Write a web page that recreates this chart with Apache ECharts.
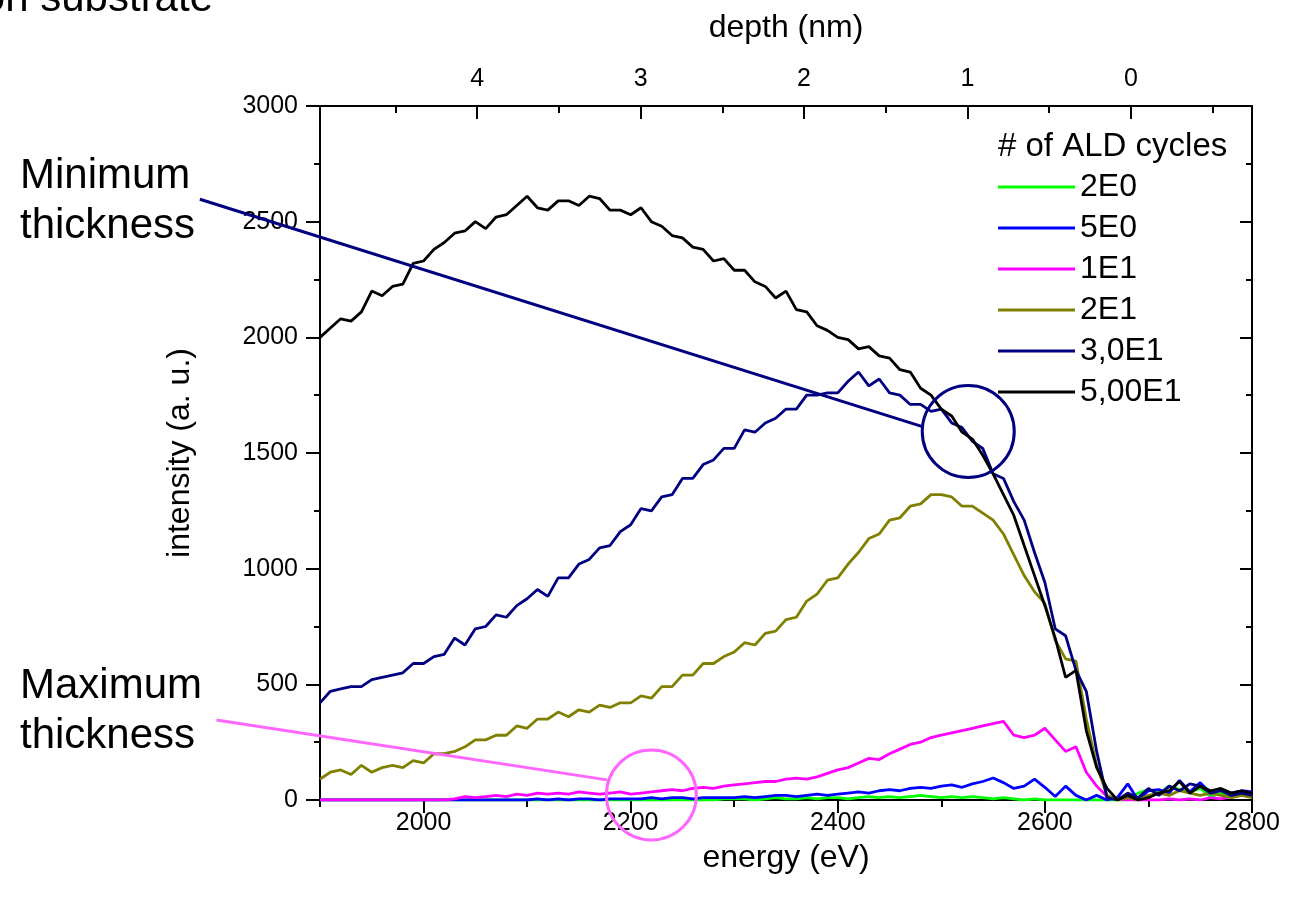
<!DOCTYPE html>
<html><head><meta charset="utf-8">
<script src="https://cdn.jsdelivr.net/npm/echarts@6/dist/echarts.min.js"></script>
<style>html,body{margin:0;padding:0;background:#fff}#chart{width:1301px;height:904px}</style>
</head><body><div id="chart"></div>
<script>
// ---------- data ----------
const energyStart = 1900, energyEnd = 2800, energyStep = 10; // sampling grid (eV)
const cycles = ['2E0', '5E0', '1E1', '2E1', '3,0E1', '5,00E1'];
const colors = ['#00ff00', '#0000ff', '#ff00ff', '#808000', '#000080', '#000000'];

const s2E0 = [
  0,0,0,0,0,0,0,0,0,0,
  0,0,0,0,0,0,0,0,0,0,
  0,0,0,0,0,0,0,0,0,0,
  0,0,0,0,0,0,0,0,0,5,
  5,5,0,5,10,5,5,10,5,10,
  10,5,10,15,10,15,10,15,20,15,
  10,15,10,15,10,5,10,5,0,5,
  0,0,0,0,0,0,0,0,0,30,
  45,30,60,45,35,50,15,30,20,25,
  15];
const s5E0 = [
  0,0,0,0,0,0,0,0,0,0,
  0,0,0,0,0,0,0,0,0,0,
  0,5,0,5,0,5,5,0,5,5,
  5,5,10,5,10,10,5,10,10,10,
  10,15,10,15,20,20,15,20,25,20,
  25,30,35,30,40,45,40,50,55,50,
  60,65,55,70,80,95,75,50,60,90,
  55,15,60,20,0,20,0,10,70,0,
  40,45,30,85,35,75,30,45,30,40,
  35];
const s1E1 = [
  0,0,0,0,0,0,0,0,0,0,
  0,0,0,5,15,10,15,20,15,25,
  20,30,25,30,25,35,30,25,30,35,
  25,30,35,40,45,40,50,55,50,60,
  65,70,75,80,80,90,95,90,100,115,
  130,140,160,180,175,200,220,240,250,270,
  280,290,300,310,320,330,340,280,270,280,
  310,260,210,230,120,60,15,5,0,0,
  0,0,5,0,5,0,10,5,15,20,
  25];
const s2E1 = [
  90,120,130,110,150,120,140,150,140,170,
  160,200,200,210,230,260,260,280,280,320,
  310,350,350,380,360,390,380,410,400,420,
  420,450,440,490,490,540,540,590,590,620,
  640,680,670,720,730,780,790,860,890,950,
  960,1020,1070,1130,1150,1210,1220,1270,1280,1320,
  1320,1310,1270,1270,1240,1210,1150,1060,970,900,
  850,690,610,600,350,150,20,0,10,0,
  20,30,20,40,30,20,30,20,10,20,
  10];
const s3E1 = [
  420,470,480,490,490,520,530,540,550,590,
  590,620,630,700,670,740,750,800,790,840,
  870,910,880,960,960,1020,1040,1090,1100,1160,
  1190,1260,1250,1310,1320,1390,1390,1450,1470,1520,
  1520,1600,1590,1630,1650,1690,1690,1750,1750,1760,
  1760,1810,1850,1790,1820,1760,1750,1710,1710,1680,
  1690,1630,1610,1550,1520,1410,1390,1290,1210,1070,
  940,740,710,560,470,210,10,0,30,10,
  50,20,60,40,70,60,30,40,20,30,
  20];
const s5E1 = [
  2000,2040,2080,2070,2110,2200,2180,2220,2230,2320,
  2330,2380,2410,2450,2460,2500,2470,2520,2530,2570,
  2610,2560,2550,2590,2590,2570,2610,2600,2550,2550,
  2530,2560,2500,2480,2440,2430,2390,2380,2330,2340,
  2290,2290,2240,2220,2170,2200,2120,2110,2050,2030,
  2000,1990,1950,1960,1920,1910,1860,1850,1780,1750,
  1690,1660,1590,1560,1490,1410,1320,1230,1100,970,
  840,700,530,560,300,140,50,0,20,0,
  10,30,40,80,30,60,40,50,30,40,
  30];
const seriesValues = [s2E0, s5E0, s1E1, s2E1, s3E1, s5E1];

const energyTicks = [2000, 2200, 2400, 2600, 2800];
const depthTicks = [4, 3, 2, 1, 0];
const depthMinorTicks = [4.5, 3.5, 2.5, 1.5, 0.5, -0.5];
const depthZeroEnergy = 2683;   // eV at depth 0 nm
const eVperNm = 157.8;          // depth scale

// annotations (data coords: energy, intensity)
const minCircle = [2526, 1593];
const minLine = [[1784, 2597], [2481, 1615]];
const maxCircle = [2220, 22];
const maxLine = [[1800, 346], [2177, 87]];

// ---------- build ----------
const energies = [];
for (let e = energyStart; e <= energyEnd; e += energyStep) energies.push(e);
const depthToEnergy = d => depthZeroEnergy - d * eVperNm;

const FONT = '"Liberation Sans", Arial, sans-serif';
const axisLine = { show: true, lineStyle: { color: '#000', width: 2 } };
const plain = v => String(v);

const chart = echarts.init(document.getElementById('chart'), null, { renderer: 'canvas' });
const option = {
  animation: false,
  backgroundColor: '#fff',
  grid: { left: 320, right: 49, top: 106, bottom: 104, containLabel: false, outerBoundsMode: 'none' },
  legend: {
    orient: 'vertical', left: 993, top: 166,
    itemWidth: 77, itemHeight: 3, itemGap: 9, icon: 'rect',
    selectedMode: false,
    textStyle: { fontSize: 32, fontFamily: FONT, color: '#000' },
    data: cycles
  },
  xAxis: [
    { type: 'value', position: 'bottom', min: energyStart, max: energyEnd, interval: 100,
      axisLine, axisTick: { show: true, length: 7, lineStyle: { color: '#000', width: 2 } },
      axisLabel: { show: false }, splitLine: { show: false } },
    { type: 'value', position: 'bottom', min: energyStart, max: energyEnd,
      axisLine: { show: false },
      axisTick: { show: true, length: 13, customValues: energyTicks, lineStyle: { color: '#000', width: 2 } },
      axisLabel: { show: true, customValues: energyTicks, fontSize: 25, fontFamily: FONT, color: '#000', margin: 11, formatter: plain },
      splitLine: { show: false },
      name: 'energy (eV)', nameLocation: 'middle', nameGap: 42,
      nameTextStyle: { fontSize: 32, fontFamily: FONT, color: '#000' } },
    { type: 'value', position: 'top', min: energyStart, max: energyEnd,
      axisLine,
      axisTick: { show: true, inside: true, length: 13, customValues: depthTicks.map(depthToEnergy), lineStyle: { color: '#000', width: 2 } },
      axisLabel: { show: true, customValues: depthTicks.map(depthToEnergy), fontSize: 25, fontFamily: FONT, color: '#000', margin: 14,
        formatter: v => String(Math.round((depthZeroEnergy - v) / eVperNm)) },
      splitLine: { show: false },
      name: 'depth (nm)', nameLocation: 'middle', nameGap: 62,
      nameTextStyle: { fontSize: 32, fontFamily: FONT, color: '#000' } },
    { type: 'value', position: 'top', min: energyStart, max: energyEnd,
      axisLine: { show: false },
      axisTick: { show: true, inside: true, length: 7, customValues: depthMinorTicks.map(depthToEnergy), lineStyle: { color: '#000', width: 2 } },
      axisLabel: { show: false }, splitLine: { show: false } }
  ],
  yAxis: [
    { type: 'value', position: 'left', min: 0, max: 3000, interval: 500,
      axisLine,
      axisTick: { show: true, length: 14, lineStyle: { color: '#000', width: 2 } },
      minorTick: { show: true, splitNumber: 2, length: 6, lineStyle: { color: '#000', width: 2 } },
      axisLabel: { fontSize: 25, fontFamily: FONT, color: '#000', margin: 22, formatter: plain },
      splitLine: { show: false }, minorSplitLine: { show: false },
      name: 'intensity (a. u.)', nameLocation: 'middle', nameGap: 124, nameRotate: 90,
      nameTextStyle: { fontSize: 32, fontFamily: FONT, color: '#000' } },
    { type: 'value', position: 'right', min: 0, max: 3000, interval: 500,
      axisLine,
      axisTick: { show: true, inside: true, length: 12, lineStyle: { color: '#000', width: 2 } },
      minorTick: { show: true, splitNumber: 2, length: 6, lineStyle: { color: '#000', width: 2 } },
      axisLabel: { show: false }, splitLine: { show: false }, minorSplitLine: { show: false } }
  ],
  series: cycles.map((name, i) => ({
    name, type: 'line', xAxisIndex: 0, yAxisIndex: 0,
    data: energies.map((e, k) => [e, seriesValues[i][k]]),
    showSymbol: false, symbol: 'none',
    color: colors[i],
    lineStyle: { color: colors[i], width: 2.8 },
    z: 2 + i
  }))
};
chart.setOption(option);

const px = p => chart.convertToPixel({ xAxisIndex: 0, yAxisIndex: 0 }, p);
const navy = '#000080', pink = '#ff66ff';
const a = px(minLine[0]), b = px(minLine[1]), c = px(minCircle);
const d = px(maxLine[0]), e2 = px(maxLine[1]), f = px(maxCircle);
chart.setOption({
  graphic: [
    { type: 'line', shape: { x1: a[0], y1: a[1], x2: b[0], y2: b[1] }, style: { stroke: navy, lineWidth: 3 }, z: 100 },
    { type: 'circle', shape: { cx: c[0], cy: c[1], r: 46 }, style: { stroke: navy, lineWidth: 3, fill: null }, z: 100 },
    { type: 'line', shape: { x1: d[0], y1: d[1], x2: e2[0], y2: e2[1] }, style: { stroke: pink, lineWidth: 3 }, z: 100 },
    { type: 'circle', shape: { cx: f[0], cy: f[1], r: 45 }, style: { stroke: pink, lineWidth: 3, fill: null }, z: 100 },
    { type: 'text', x: 20, y: 151, style: { text: 'Minimum\nthickness', font: '42px ' + FONT, lineHeight: 50, fill: '#000' }, z: 100 },
    { type: 'text', x: 20, y: 661, style: { text: 'Maximum\nthickness', font: '42px ' + FONT, lineHeight: 50, fill: '#000' }, z: 100 },
    { type: 'text', x: 213, y: -1, style: { text: 'on substrate', font: '42px ' + FONT, align: 'right', verticalAlign: 'middle', fill: '#000' }, z: 100 },
    { type: 'text', x: 998, y: 147, style: { text: '# of ALD cycles', font: '33px ' + FONT, verticalAlign: 'middle', fill: '#000' }, z: 100 }
  ]
});
</script>
</body></html>
